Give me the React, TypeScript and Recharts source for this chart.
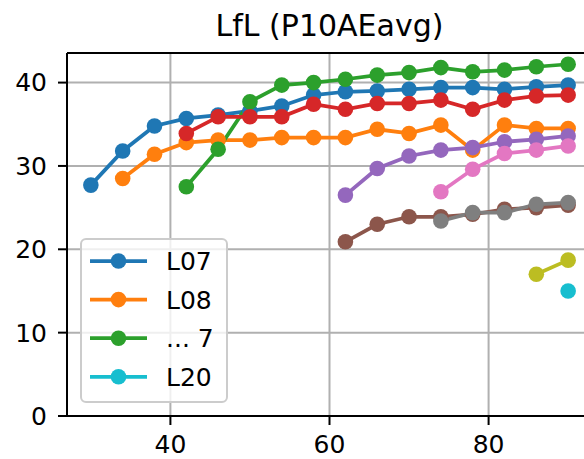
import React from 'react';
import { LineChart, Line, XAxis, YAxis, CartesianGrid, ReferenceLine } from 'recharts';

// x positions shared by every series
const xValues = [30, 34, 38, 42, 46, 50, 54, 58, 62, 66, 70, 74, 78, 82, 86, 90];

const l07 = [27.7, 31.8, 34.8, 35.7, 36.1, 36.6, 37.2, 38.5, 38.9, 39.0, 39.2, 39.4, 39.4, 39.2, 39.5, 39.7];
const l08 = [null, 28.5, 31.4, 32.8, 33.1, 33.1, 33.4, 33.4, 33.4, 34.4, 33.9, 34.9, 31.9, 34.9, 34.5, 34.5];
const l09 = [null, null, null, 27.5, 32.0, 37.7, 39.7, 40.0, 40.4, 40.9, 41.2, 41.8, 41.3, 41.5, 41.9, 42.2];
const l10 = [null, null, null, 33.9, 35.9, 35.9, 35.9, 37.4, 36.8, 37.5, 37.5, 37.9, 36.8, 37.9, 38.4, 38.5];
const l11 = [null, null, null, null, null, null, null, null, 26.5, 29.7, 31.2, 31.9, 32.2, 32.9, 33.2, 33.6];
const l12 = [null, null, null, null, null, null, null, null, 20.9, 23.0, 23.9, 23.9, 24.2, 24.8, 25.0, 25.3];
const l13 = [null, null, null, null, null, null, null, null, null, null, null, 26.9, 29.6, 31.5, 31.9, 32.4];
const l14 = [null, null, null, null, null, null, null, null, null, null, null, 23.4, 24.4, 24.4, 25.4, 25.6];
const l15 = [null, null, null, null, null, null, null, null, null, null, null, null, null, null, 17.0, 18.7];
const l20 = [null, null, null, null, null, null, null, null, null, null, null, null, null, null, null, 15.0];

const xTicks = [40, 60, 80];
const yTicks = [0, 10, 20, 30, 40];

const series = [
  { key: 'L07', values: l07, color: '#1f77b4' },
  { key: 'L08', values: l08, color: '#ff7f0e' },
  { key: 'L09', values: l09, color: '#2ca02c' },
  { key: 'L10', values: l10, color: '#d62728' },
  { key: 'L11', values: l11, color: '#9467bd' },
  { key: 'L12', values: l12, color: '#8c564b' },
  { key: 'L13', values: l13, color: '#e377c2' },
  { key: 'L14', values: l14, color: '#7f7f7f' },
  { key: 'L15', values: l15, color: '#bcbd22' },
  { key: 'L20', values: l20, color: '#17becf' },
];

const legendLabels = ['L07', 'L08', '... 7', 'L20'];
const legendColors = ['#1f77b4', '#ff7f0e', '#2ca02c', '#17becf'];

const data = xValues.map((x, i) => {
  const row: Record<string, number | null> = { x };
  series.forEach((s) => {
    row[s.key] = s.values[i];
  });
  return row;
});

const font = 'DejaVu Sans';
const tickStyle = { fill: '#000', fontSize: 25, fontFamily: font };
const spine = { stroke: '#000', strokeWidth: 2 };

export default function App() {
  return (
    <div
      style={{
        position: 'absolute',
        left: 0,
        top: 0,
        width: 584,
        height: 459,
        overflow: 'hidden',
        background: '#fff',
      }}
    >
      <LineChart
        width={600}
        height={459}
        data={data}
        margin={{ top: 53, right: 8, bottom: 0, left: 0 }}
      >
        <CartesianGrid stroke="#b0b0b0" strokeWidth={2} />
        <XAxis
          type="number"
          dataKey="x"
          domain={[27, 93]}
          ticks={xTicks}
          allowDataOverflow
          height={43}
          tickSize={9}
          tickMargin={10}
          tick={tickStyle}
          axisLine={spine}
          tickLine={spine}
        />
        <YAxis
          type="number"
          domain={[0, 43.55]}
          ticks={yTicks}
          allowDataOverflow
          width={67}
          tickSize={9}
          tickMargin={11}
          tick={tickStyle}
          axisLine={spine}
          tickLine={spine}
        />
        <ReferenceLine y={43.55} stroke="#000" strokeWidth={2} />
        {series.map((s) => (
          <Line
            key={s.key}
            type="linear"
            dataKey={s.key}
            stroke={s.color}
            strokeWidth={3.75}
            dot={{ r: 7.8, fill: s.color, stroke: s.color, strokeWidth: 0 }}
            activeDot={false}
            isAnimationActive={false}
          />
        ))}
      </LineChart>
      <svg
        width={584}
        height={459}
        style={{ position: 'absolute', left: 0, top: 0, pointerEvents: 'none' }}
      >
        <text x={329.5} y={36} textAnchor="middle" fontSize={30} fontFamily={font} fill="#000">
          LfL (P10AEavg)
        </text>
        <rect
          x={81}
          y={239}
          width={146}
          height={163}
          rx={5}
          fill="rgba(255,255,255,0.8)"
          stroke="#cccccc"
          strokeWidth={2}
        />
        {legendLabels.map((label, i) => {
          const cy = 261 + i * 38.6;
          return (
            <g key={label}>
              <line x1={90} x2={147} y1={cy} y2={cy} stroke={legendColors[i]} strokeWidth={3.75} />
              <circle cx={118.5} cy={cy} r={7.8} fill={legendColors[i]} />
              <text x={166} y={cy + 9} fontSize={25} fontFamily={font} fill="#000">
                {label}
              </text>
            </g>
          );
        })}
      </svg>
    </div>
  );
}
